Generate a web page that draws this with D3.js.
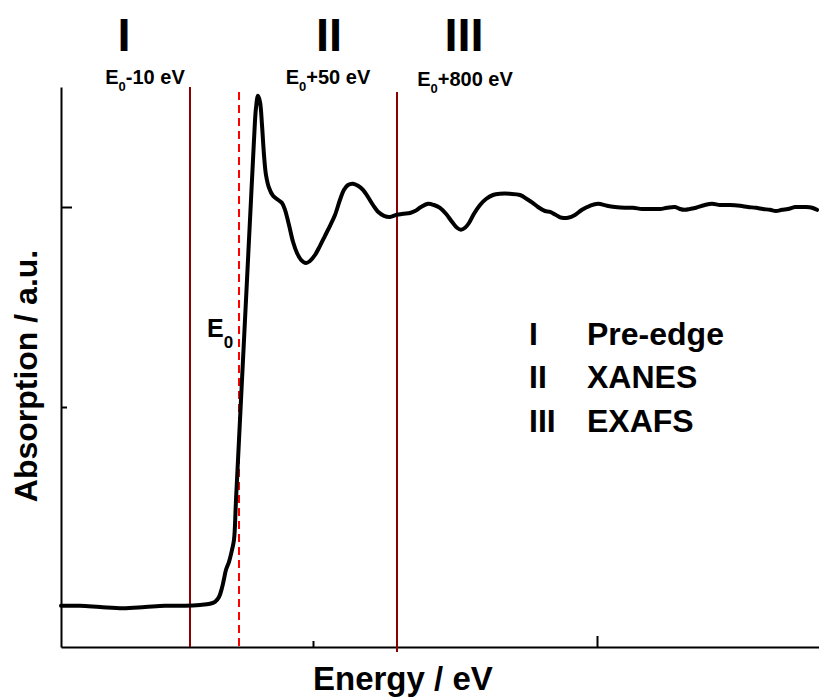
<!DOCTYPE html>
<html>
<head>
<meta charset="utf-8">
<script src="https://cdn.jsdelivr.net/npm/d3@7"></script>
<style>
  html, body { margin: 0; padding: 0; background: #fff; }
  svg { display: block; font-family: "Liberation Sans", Arial, sans-serif; font-weight: bold; }
</style>
</head>
<body>
<svg id="chart" width="819" height="697"></svg>
<script>
// X-ray absorption spectrum (arbitrary energy units, normalised absorption)
const energy = [
  0, 3.8, 7.8, 12.4, 16.8, 20.8, 24.8, 27.8, 29.8, 30.8, 31.6, 32.2, 32.6, 33.0, 33.6, 34.2, 34.6,
  35.0, 35.6, 36.4, 37.2, 38.0, 38.6, 39.0, 39.4, 39.8, 40.2, 40.6, 41.0, 41.6, 42.4, 43.4, 44.2,
  44.8, 45.6, 46.4, 47.2, 48.0, 49.0, 49.8, 50.8, 51.8, 52.8, 53.8, 54.8, 55.8, 56.6, 57.4, 58.4,
  59.4, 60.4, 61.4, 62.4, 63.4, 64.6, 65.8, 67.0, 68.4, 69.8, 70.8, 72.0, 73.4, 74.6, 75.8, 77.0,
  78.2, 79.2, 80.0, 80.8, 81.6, 82.6, 83.8, 85.0, 86.4, 87.8, 89.8, 91.8, 93.4, 94.6, 95.4, 96.8,
  97.8, 99.0, 100.2, 101.4, 102.8, 104.2, 105.8, 107.4, 109.2, 110.8, 112.8, 114.4, 116.2, 117.8,
  119.8, 121.2, 122.8, 123.8, 124.8, 125.8, 127.0, 128.8, 130.2, 131.8, 133.8, 135.8, 137.4, 139.0,
  140.4, 141.8, 143.0, 144.2, 145.4, 146.8, 147.8, 149.0, 150.2, 151.2
];
const absorption = [
  0.003, 0.003, 0.000, -0.003, 0.000, 0.003, 0.003, 0.005, 0.008, 0.013, 0.025, 0.048, 0.070, 0.093, 0.113, 0.143, 0.168,
  0.268, 0.418, 0.618, 0.818, 1.018, 1.168, 1.248, 1.278, 1.263, 1.205, 1.130, 1.080, 1.048, 1.028, 1.018, 1.010,
  0.993, 0.955, 0.913, 0.885, 0.868, 0.860, 0.865, 0.880, 0.903, 0.928, 0.953, 0.980, 1.018, 1.043, 1.055, 1.058,
  1.053, 1.043, 1.025, 1.005, 0.988, 0.978, 0.975, 0.980, 0.983, 0.985, 0.990, 1.000, 1.008, 1.005, 0.998, 0.983,
  0.963, 0.948, 0.943, 0.948, 0.960, 0.983, 1.005, 1.020, 1.030, 1.033, 1.033, 1.030, 1.018, 1.008, 1.000, 0.990,
  0.988, 0.980, 0.973, 0.973, 0.980, 0.993, 1.003, 1.008, 1.003, 1.000, 0.998, 0.998, 0.995, 0.995,
  0.995, 0.998, 1.000, 0.995, 0.993, 0.995, 0.998, 1.005, 1.008, 1.005, 1.005, 1.003, 1.000, 0.998,
  0.995, 0.993, 0.990, 0.993, 0.995, 1.000, 1.000, 1.000, 0.998, 0.993
];

// Axis ticks (no labels on either axis)
const xMajorTicks = [107.2];
const xMinorTicks = [50.4];
const yMajorTicks = [1.0];
const yMinorTicks = [0.5];

// Region boundaries and absorption edge
const boundaryEnergy = [25.8, 67.2];
const boundaryTop = [1.3, 1.2875];
const boundaryBottom = [-0.1, -0.1125];
const edgeEnergy = 35.6;
const edgeTop = 1.2875;
const edgeBottom = -0.1;

// Region annotations above the plot
const regionNumerals = ["I", "II", "III"];
const regionNumeralAt = [12.6, 53.6, 80.6];
const regionOffsets = ["-10 eV", "+50 eV", "+800 eV"];
const regionOffsetAt = [16.8, 53.4, 80.8];

// Edge label position
const edgeLabelAt = [29.2, 0.675];

// Key
const keyNumerals = ["I", "II", "III"];
const keyNames = ["Pre-edge", "XANES", "EXAFS"];

const svg = d3.select("#chart");
const plotLeft = 61, plotRight = 819, plotTop = 87, plotBottom = 647;

const x = d3.scaleLinear().domain([0, 151.6]).range([plotLeft, plotRight]);
const y = d3.scaleLinear().domain([-0.1, 1.3]).range([plotBottom, plotTop]);

const axisStyle = g => {
  g.selectAll("path, line").attr("stroke", "#000").attr("stroke-width", 2);
  g.selectAll("text").remove();
};

// bottom axis: line plus inward major and minor ticks
svg.append("g").attr("transform", `translate(0,${plotBottom})`)
  .call(d3.axisBottom(x).tickValues(xMajorTicks).tickSize(-11).tickSizeOuter(0).tickFormat(""))
  .call(axisStyle);
svg.append("g").attr("transform", `translate(0,${plotBottom})`)
  .call(d3.axisBottom(x).tickValues(xMinorTicks).tickSize(-6).tickSizeOuter(0).tickFormat(""))
  .call(axisStyle).call(g => g.select(".domain").remove());

// left axis
svg.append("g").attr("transform", `translate(${plotLeft},0)`)
  .call(d3.axisLeft(y).tickValues(yMajorTicks).tickSize(-11).tickSizeOuter(0).tickFormat(""))
  .call(axisStyle);
svg.append("g").attr("transform", `translate(${plotLeft},0)`)
  .call(d3.axisLeft(y).tickValues(yMinorTicks).tickSize(-6).tickSizeOuter(0).tickFormat(""))
  .call(axisStyle).call(g => g.select(".domain").remove());

// region boundaries
svg.append("g").selectAll("line").data(boundaryEnergy).join("line")
  .attr("x1", d => x(d)).attr("x2", d => x(d))
  .attr("y1", (d, i) => y(boundaryTop[i])).attr("y2", (d, i) => y(boundaryBottom[i]))
  .attr("stroke", "#8B0000").attr("stroke-width", 2);

// absorption edge E0
svg.append("line")
  .attr("x1", x(edgeEnergy)).attr("x2", x(edgeEnergy))
  .attr("y1", y(edgeTop)).attr("y2", y(edgeBottom))
  .attr("stroke", "#ff0000").attr("stroke-width", 2).attr("stroke-dasharray", "8,5");

// spectrum
const pts = energy.map((e, i) => [e, absorption[i]]);
svg.append("path")
  .datum(pts)
  .attr("fill", "none").attr("stroke", "#000").attr("stroke-width", 4)
  .attr("stroke-linejoin", "round").attr("stroke-linecap", "round")
  .attr("d", d3.line().x(d => x(d[0])).y(d => y(d[1])).curve(d3.curveCatmullRom.alpha(0.5)));

// roman numerals above each region
svg.append("g").selectAll("text").data(regionNumerals).join("text")
  .attr("x", (d, i) => x(regionNumeralAt[i])).attr("y", 51)
  .attr("text-anchor", "middle").attr("font-size", 47).text(d => d);

// boundary energies: E0 +/- offset
regionOffsets.forEach((s, i) => {
  const t = svg.append("text")
    .attr("x", x(regionOffsetAt[i])).attr("y", i === 2 ? 86 : 84)
    .attr("text-anchor", "middle").attr("font-size", 20);
  t.append("tspan").text("E");
  t.append("tspan").attr("font-size", 13).attr("dy", 7).text("0");
  t.append("tspan").attr("dy", -7).text(s);
});

// E0 label beside the edge
const e0 = svg.append("text")
  .attr("x", x(edgeLabelAt[0])).attr("y", y(edgeLabelAt[1]))
  .attr("font-size", 25);
e0.append("tspan").text("E");
e0.append("tspan").attr("font-size", 17).attr("dy", 11).text("0");

// key
const keyRows = [345, 388, 432];
svg.append("g").selectAll("text").data(keyNumerals).join("text")
  .attr("x", 529).attr("y", (d, i) => keyRows[i])
  .attr("font-size", 32).text(d => d);
svg.append("g").selectAll("text").data(keyNames).join("text")
  .attr("x", 587).attr("y", (d, i) => keyRows[i])
  .attr("font-size", 32).text(d => d);

// axis titles
svg.append("text")
  .attr("x", 313).attr("y", 690)
  .attr("font-size", 33).text("Energy / eV");
svg.append("text")
  .attr("transform", "translate(37,376) rotate(-90)")
  .attr("text-anchor", "middle")
  .attr("font-size", 32).text("Absorption / a.u.");
</script>
</body>
</html>
